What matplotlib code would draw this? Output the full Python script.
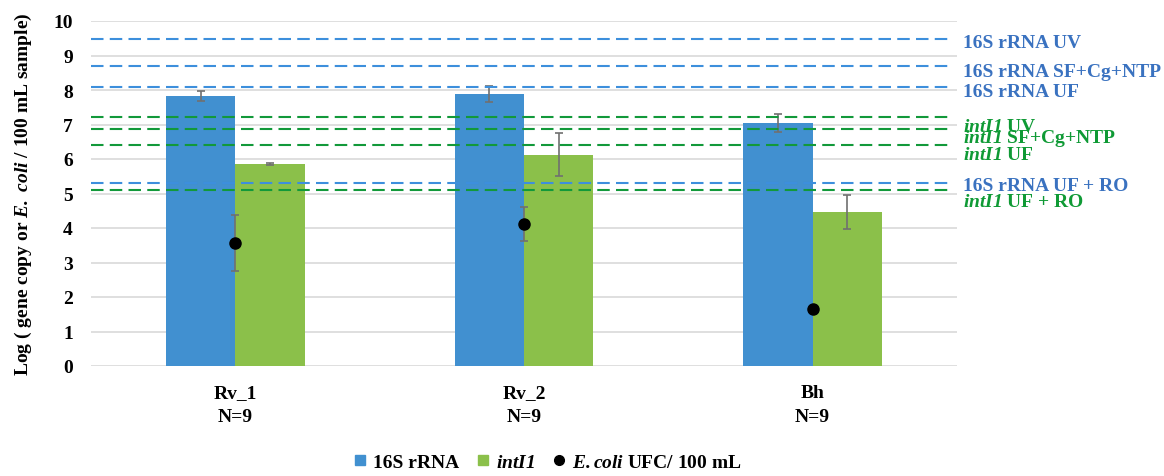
import numpy as np
import matplotlib
matplotlib.use("Agg")
import matplotlib.pyplot as plt
from matplotlib.lines import Line2D

plt.rcParams['font.family'] = ['Liberation Serif', 'DejaVu Serif']
plt.rcParams['font.weight'] = 'bold'
# mathtext only used for the italic gene / species names
plt.rcParams['mathtext.fontset'] = 'custom'
plt.rcParams['mathtext.it'] = 'Liberation Serif:italic:bold'
plt.rcParams['mathtext.rm'] = 'Liberation Serif:italic:bold'
plt.rcParams['mathtext.bf'] = 'Liberation Serif:italic:bold'

# data
sites = ['Rv_1\nN=9', 'Rv_2\nN=9', 'Bh\nN=9']
rrna = [7.83, 7.88, 7.04]
rrna_err = [0.15, 0.24, 0.25]
intl1 = [5.86, 6.12, 4.47]
intl1_err = [0.03, 0.62, 0.50]
ecoli = [3.57, 4.11, 1.65]
ecoli_err = [0.82, 0.50, 0.0]

# reference levels (dashed lines)
rrna_refs = {'UV': 9.49, 'SF+Cg+NTP': 8.70, 'UF': 8.09, 'UF + RO': 5.30}
intl1_refs = {'UV': 7.21, 'SF+Cg+NTP': 6.86, 'UF': 6.41, 'UF + RO': 5.10}

c_blue = '#4190d0'
c_green = '#8bc04a'
c_lblue = '#3d8fdc'
c_lgreen = '#12993a'
c_tblue = '#3a72c0'
c_tgreen = '#0f9a35'

fig = plt.figure(figsize=(11.64, 4.77), dpi=100)
ax = fig.add_axes([91/1164, 1-367/477, (957-91)/1164, (367-22)/477])

x = np.arange(len(sites))
w = 0.24
ax.bar(x - w/2, rrna, w, color=c_blue, yerr=rrna_err, ecolor='#707070',
       error_kw=dict(elinewidth=1.2, capsize=3, capthick=1.2), zorder=2)
ax.bar(x + w/2, intl1, w, color=c_green, yerr=intl1_err, ecolor='#707070',
       error_kw=dict(elinewidth=1.2, capsize=3, capthick=1.2), zorder=2)
ax.errorbar(x, ecoli, yerr=ecoli_err, fmt='o', color='black', ms=8,
            ecolor='#707070', elinewidth=1.2, capsize=3, capthick=1.2, zorder=4)

for v in rrna_refs.values():
    ax.axhline(v, xmin=0, xmax=0.99, color=c_lblue, lw=1.5, ls=(0, (6, 3)), zorder=3)
for v in intl1_refs.values():
    ax.axhline(v, xmin=0, xmax=0.99, color=c_lgreen, lw=1.5, ls=(0, (6, 3)), zorder=3)

ax.set_xlim(-0.5, 2.5)
ax.set_ylim(0, 10)
ax.set_yticks(range(0, 11))
ax.yaxis.grid(True, color='#d9d9d9', lw=1.2, zorder=0)
ax.set_axisbelow(True)
for s in ax.spines.values():
    s.set_visible(False)
ax.tick_params(axis='both', length=0, labelsize=14)
ax.tick_params(axis='y', pad=13)
ax.tick_params(axis='x', pad=13)
ax.set_xticks(x)
ax.set_xticklabels(sites, fontweight='bold', linespacing=1.5)
for t in ax.get_yticklabels():
    t.set_fontweight('bold')
ax.set_ylabel(r'Log ( gene copy or $E.\ coli$ / 100 mL sample)', fontsize=14,
              fontweight='bold', labelpad=14)

# right side labels
lbl_x = 2.52
labels = [
    ('16S rRNA UV', 9.39, c_tblue),
    ('16S rRNA SF+Cg+NTP', 8.55, c_tblue),
    ('16S rRNA UF', 7.97, c_tblue),
    (r'$intI1$ UV', 6.95, c_tgreen),
    (r'$intI1$ SF+Cg+NTP', 6.61, c_tgreen),
    (r'$intI1$ UF', 6.13, c_tgreen),
    ('16S rRNA UF + RO', 5.23, c_tblue),
    (r'$intI1$ UF + RO', 4.78, c_tgreen),
]
for txt, yy, col in labels:
    ax.text(lbl_x, yy, txt, color=col, fontsize=14, fontweight='bold',
            va='center', ha='left', clip_on=False)

handles = [
    Line2D([], [], marker='s', ls='', color=c_blue, ms=7),
    Line2D([], [], marker='s', ls='', color=c_green, ms=7),
    Line2D([], [], marker='o', ls='', color='black', ms=7),
]
fig.legend(handles, ['16S rRNA', r'$intI1$', r'$E{.}coli$ UFC/ 100 mL'],
           loc='center', bbox_to_anchor=(548/1164, 1-463/477), ncol=3,
           frameon=False, handlelength=0.6, handletextpad=0.4, columnspacing=0.9,
           prop={'weight': 'bold', 'size': 14})

fig.savefig('out.png', dpi=100)
